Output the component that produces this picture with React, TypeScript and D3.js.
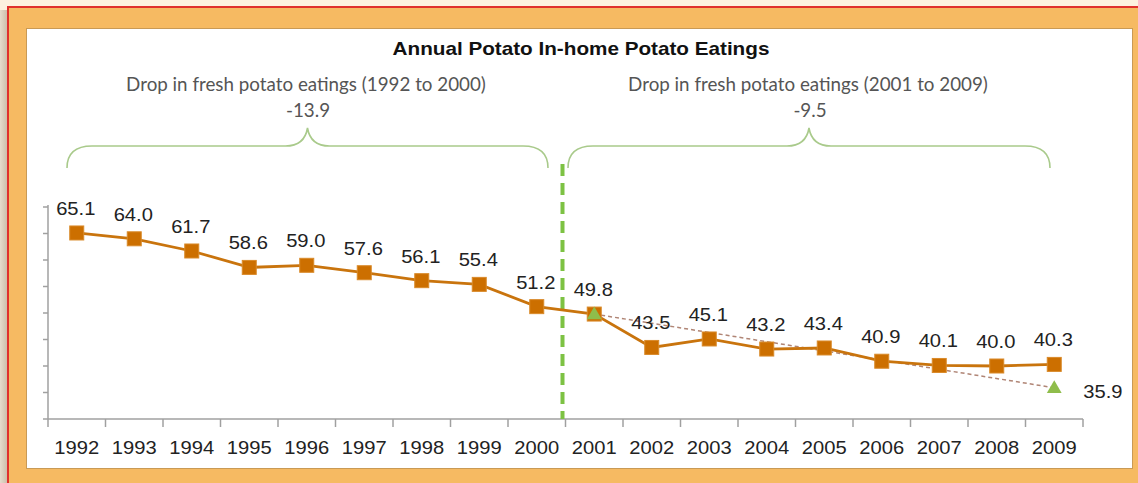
import React from "react";
import * as d3 from "d3";

const years = ["1992","1993","1994","1995","1996","1997","1998","1999","2000","2001","2002","2003","2004","2005","2006","2007","2008","2009"];
const eatings = [65.1, 64.0, 61.7, 58.6, 59.0, 57.6, 56.1, 55.4, 51.2, 49.8, 43.5, 45.1, 43.2, 43.4, 40.9, 40.1, 40.0, 40.3];
const trendYears = ["2001", "2009"];
const trendValues = [49.8, 35.9];
const yTicks = [30, 35, 40, 45, 50, 55, 60, 65, 70];
const title = "Annual Potato In-home Potato Eatings";
const leftNote = "Drop in fresh potato eatings (1992 to 2000)";
const leftDrop = "-13.9";
const rightNote = "Drop in fresh potato eatings (2001 to 2009)";
const rightDrop = "-9.5";

const W = 1138, H = 483;
const arial = "'Liberation Sans', Arial, sans-serif";
const soft = "Lato, 'Open Sans', sans-serif";

export default function App() {
  const x = d3.scaleBand<string>().domain(years).range([48, 1083]).paddingInner(0).paddingOuter(0);
  const y = d3.scaleLinear().domain([30, 70]).range([419, 207]);
  const cx = (yr: string) => (x(yr) as number) + x.bandwidth() / 2;
  const line = d3.line<number>().x((_, i) => cx(years[i])).y((v) => y(v));
  const trend = d3.line<number>().x((_, i) => cx(trendYears[i])).y((v) => y(v));
  const tri = d3.symbol().type(d3.symbolTriangle).size(95)() as string;
  const sepX = (x("2001") as number) - 3;

  const brace = (x0: number, x1: number) => {
    const m = (x0 + x1) / 2;
    return `M${x0},168 Q${x0},146 ${x0 + 25},146 L${m - 22},146 Q${m - 3},146 ${m},128 Q${m + 3},146 ${m + 22},146 L${x1 - 25},146 Q${x1},146 ${x1},168`;
  };

  const sx = (tx: number, ty: number, s = 1.12) => `translate(${tx},${ty}) scale(${s},1)`;

  return (
    <svg width={W} height={H} style={{ position: "absolute", left: 0, top: 0 }}>
      <defs>
        <linearGradient id="shadow" x1="0" x2="1" y1="0" y2="0">
          <stop offset="0" stopColor="#e6dccd" />
          <stop offset="1" stopColor="#c9baa6" />
        </linearGradient>
      </defs>
      <rect x={0} y={0} width={W} height={H} fill="#fdf1df" />
      <rect x={0} y={10} width={8} height={H} fill="url(#shadow)" />
      <rect x={8} y={7} width={W + 10} height={H + 10} fill="#f6ba62" stroke="#e0302c" strokeWidth={2} />
      <rect x={26.5} y={28.5} width={1106} height={440} fill="#ffffff" stroke="#c99a55" strokeWidth={1} />

      <g transform={sx(581, 55, 1.15)}>
        <text textAnchor="middle" fontFamily={arial} fontWeight="bold" fontSize={18} fill="#111">{title}</text>
      </g>

      <text x={306} y={91} textAnchor="middle" fontFamily={soft} fontSize={18.8} fill="#555">{leftNote}</text>
      <text x={308} y={117} textAnchor="middle" fontFamily={soft} fontSize={18.8} fill="#555">{leftDrop}</text>
      <text x={808} y={91} textAnchor="middle" fontFamily={soft} fontSize={18.8} fill="#555">{rightNote}</text>
      <text x={810} y={117} textAnchor="middle" fontFamily={soft} fontSize={18.8} fill="#555">{rightDrop}</text>

      <path d={brace(67, 548)} fill="none" stroke="#a9ca8b" strokeWidth={1.6} />
      <path d={brace(568, 1050)} fill="none" stroke="#a9ca8b" strokeWidth={1.6} />

      {/* axes */}
      <line x1={48} x2={48} y1={205} y2={427} stroke="#a0a0a0" strokeWidth={1.5} />
      {yTicks.map((t) => (
        <line key={t} x1={43} x2={48} y1={y(t)} y2={y(t)} stroke="#a0a0a0" strokeWidth={1.5} />
      ))}
      <line x1={48} x2={1083} y1={419} y2={419} stroke="#a0a0a0" strokeWidth={1.5} />
      {years.map((yr) => (
        <line key={yr} x1={(x(yr) as number) + x.bandwidth()} x2={(x(yr) as number) + x.bandwidth()} y1={419} y2={427} stroke="#a0a0a0" strokeWidth={1.5} />
      ))}
      {years.map((yr) => (
        <g key={yr} transform={sx(cx(yr), 454)}>
          <text textAnchor="middle" fontFamily={arial} fontSize={18} fill="#222">{yr}</text>
        </g>
      ))}

      <line x1={sepX} x2={sepX} y1={164} y2={419} stroke="#7dc243" strokeWidth={4} strokeDasharray="12 7" />

      <path d={trend(trendValues) as string} fill="none" stroke="#b08575" strokeWidth={1.5} strokeDasharray="4 3" />

      <path d={line(eatings) as string} fill="none" stroke="#c9740d" strokeWidth={2.8} />
      {eatings.map((v, i) => (
        <rect key={years[i]} x={cx(years[i]) - 7} y={y(v) - 7} width={14} height={14} fill="#cc6f00" stroke="#d98a2a" strokeWidth={1} />
      ))}
      {trendValues.map((v, i) => (
        <path key={trendYears[i]} d={tri} transform={`translate(${cx(trendYears[i])},${y(v) + 1})`} fill="#8fbd4b" />
      ))}

      {eatings.map((v, i) => (
        <g key={years[i]} transform={sx(cx(years[i]) - 1, y(v) - 18)}>
          <text textAnchor="middle" fontFamily={arial} fontSize={18} fill="#222">{v.toFixed(1)}</text>
        </g>
      ))}
      <g transform={sx(cx("2009") + 29, y(trendValues[1]) + 10)}>
        <text textAnchor="start" fontFamily={arial} fontSize={18} fill="#222">{trendValues[1].toFixed(1)}</text>
      </g>
    </svg>
  );
}
